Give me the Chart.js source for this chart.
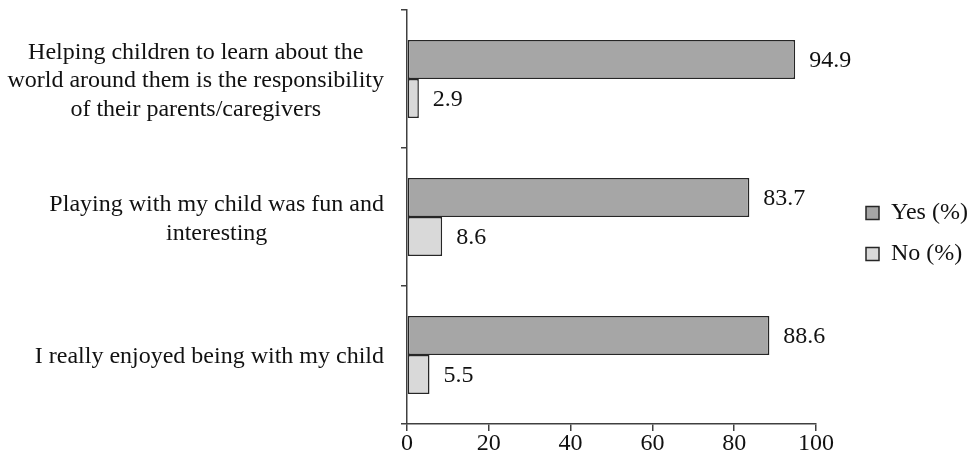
<!DOCTYPE html>
<html>
<head>
<meta charset="utf-8">
<script src="https://cdn.jsdelivr.net/npm/chart.js@4/dist/chart.umd.min.js"></script>
<style>
html,body{margin:0;padding:0;background:#fff;}
#wrap{width:973px;height:465px;position:relative;}
</style>
</head>
<body>
<div id="wrap"><canvas id="c"></canvas></div>
<script>
const categories = [
  ["Helping children to learn about the", "world around them is the responsibility", "of their parents/caregivers"],
  ["Playing with my child was fun and", "interesting"],
  ["I really enjoyed being with my child"]
];
const seriesNames = ["Yes (%)", "No (%)"];
const yesValues = [94.9, 83.7, 88.6];
const noValues = [2.9, 8.6, 5.5];
const xTicks = [0, 20, 40, 60, 80, 100];

const FONT = "'Liberation Serif', 'Times New Roman', serif";
const FS = 24;

// value labels at bar ends
const valueLabels = {
  id: 'valueLabels',
  afterDatasetsDraw(chart) {
    const ctx = chart.ctx;
    ctx.save();
    ctx.font = FS + "px " + FONT;
    ctx.fillStyle = '#111';
    ctx.textAlign = 'left';
    ctx.textBaseline = 'middle';
    chart.data.datasets.forEach((ds, i) => {
      const meta = chart.getDatasetMeta(i);
      meta.data.forEach((el, j) => {
        ctx.fillText(ds.data[j].toFixed(1), el.x + 14, el.y + 1);
      });
    });
    ctx.restore();
  }
};

// category labels: each block centred on its own widest line, blocks right-aligned near the axis
const categoryLabels = {
  id: 'categoryLabels',
  afterDraw(chart) {
    const ctx = chart.ctx;
    const yScale = chart.scales.y;
    const rightEdge = yScale.right - 23;
    const lh = 28.5;
    ctx.save();
    ctx.font = FS + "px " + FONT;
    ctx.fillStyle = '#111';
    ctx.textAlign = 'center';
    ctx.textBaseline = 'middle';
    chart.data.labels.forEach((lines, i) => {
      const yc = yScale.getPixelForValue(i);
      const w = Math.max(...lines.map(t => ctx.measureText(t).width));
      const xc = rightEdge - w / 2;
      const y0 = yc - (lines.length - 1) * lh / 2;
      lines.forEach((t, k) => ctx.fillText(t, xc, y0 + k * lh + 2));
    });
    ctx.restore();
  }
};

// move the legend block a little away from the plot, as in the reference
const legendShift = {
  id: 'legendShift',
  afterLayout(chart) {
    const lg = chart.legend;
    if (!lg) return;
    const dx = 33, dy = -4;
    lg.left += dx; lg.right += dx;
    lg.top += dy; lg.bottom += dy;
  }
};

new Chart(document.getElementById('c'), {
  type: 'bar',
  data: {
    labels: categories,
    datasets: [
      { label: seriesNames[0], data: yesValues, backgroundColor: '#a6a6a6', borderColor: '#262626', borderWidth: 1.5, borderSkipped: false },
      { label: seriesNames[1], data: noValues, backgroundColor: '#d9d9d9', borderColor: '#262626', borderWidth: 1.5, borderSkipped: false }
    ]
  },
  options: {
    indexAxis: 'y',
    responsive: true,
    maintainAspectRatio: false,
    animation: false,
    devicePixelRatio: 1,
    categoryPercentage: 0.565,
    barPercentage: 1.0,
    layout: { padding: { left: 0, top: 10, right: 6, bottom: 0 } },
    plugins: {
      legend: {
        position: 'right',
        align: 'center',
        labels: {
          font: { family: FONT, size: FS },
          color: '#111',
          boxWidth: 13,
          boxHeight: 13,
          padding: 17
        }
      },
      tooltip: { enabled: false }
    },
    scales: {
      x: {
        min: 0, max: 100,
        afterBuildTicks(scale) { scale.ticks = xTicks.map(v => ({ value: v })); },
        afterFit(scale) { scale.paddingRight = 157; scale.paddingLeft = 0; scale.height = 41; },
        border: { display: true, color: '#404040', width: 1.5 },
        grid: { display: true, drawOnChartArea: false, drawTicks: true, tickLength: 7, color: '#404040', lineWidth: 1.5 },
        ticks: { font: { family: FONT, size: FS }, color: '#111', padding: -2 }
      },
      y: {
        afterFit(scale) { scale.width = 407; scale.paddingTop = 0; scale.paddingBottom = 0; },
        border: { display: true, color: '#404040', width: 1.5 },
        grid: { display: true, offset: true, drawOnChartArea: false, drawTicks: true, tickLength: 6, color: '#404040', lineWidth: 1.5 },
        ticks: { display: false }
      }
    }
  },
  plugins: [valueLabels, categoryLabels, legendShift]
});
</script>
</body>
</html>
